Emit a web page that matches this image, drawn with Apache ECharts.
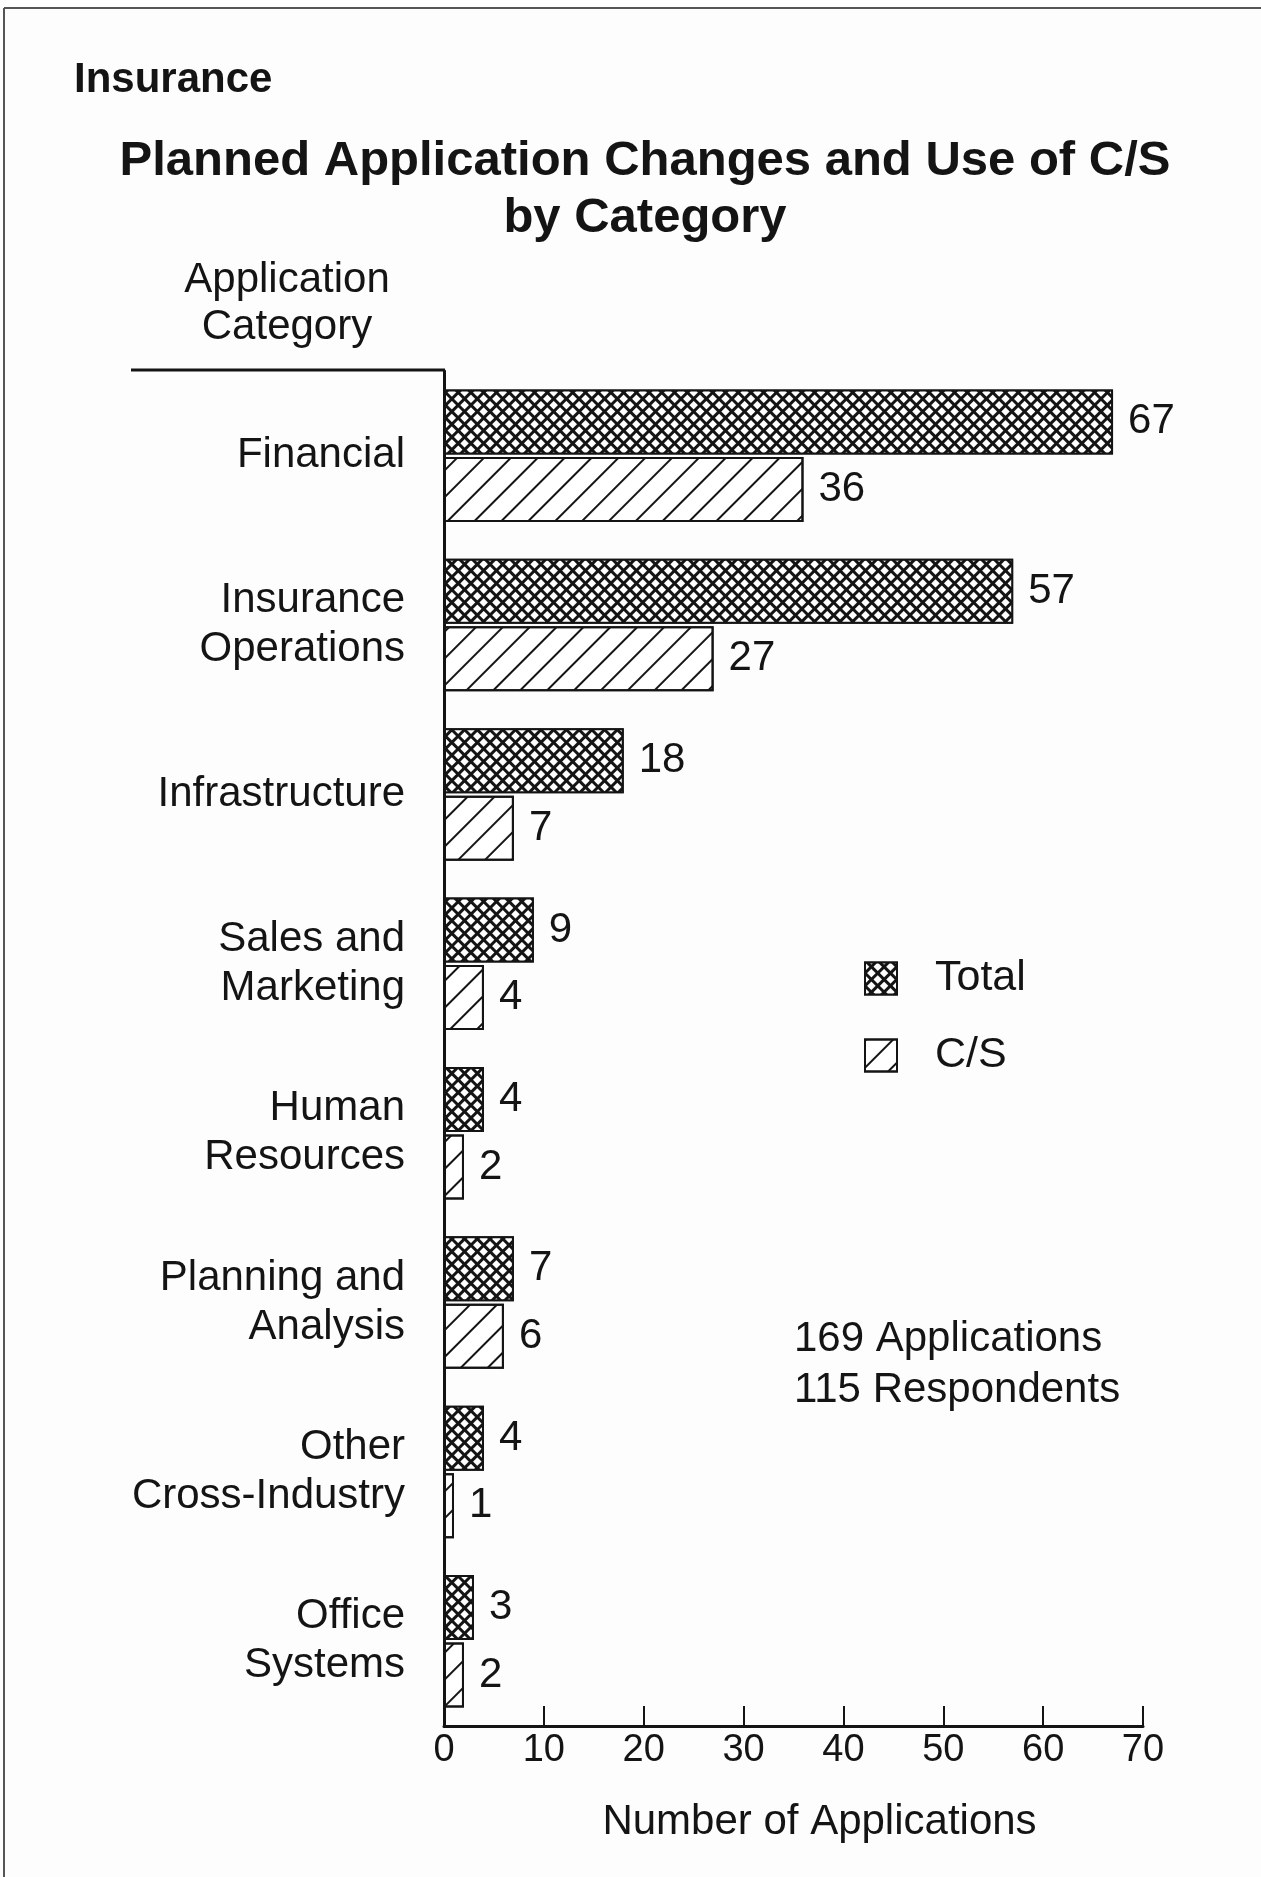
<!DOCTYPE html>
<html>
<head>
<meta charset="utf-8">
<title>Planned Application Changes and Use of C/S by Category</title>
<script src="https://cdn.jsdelivr.net/npm/echarts@6/dist/echarts.min.js"></script>
<style>
  html, body { margin: 0; padding: 0; background: #fdfdfd; }
  #chart { width: 1261px; height: 1877px; }
</style>
</head>
<body>
<div id="chart"></div>
<script>
// data
const categories = [
  'Financial',
  'Insurance\nOperations',
  'Infrastructure',
  'Sales and\nMarketing',
  'Human\nResources',
  'Planning and\nAnalysis',
  'Other\nCross-Industry',
  'Office\nSystems'
];
const totalValues = [67, 57, 18, 9, 4, 7, 4, 3];
const csValues = [36, 27, 7, 4, 2, 6, 1, 2];
const seriesNames = ['Total', 'C/S'];
const xMin = 0;
const xMax = 70;
const xStep = 10;
const footNote = '169 Applications\n115 Respondents';

const FONT = '"Liberation Sans", Arial, Helvetica, sans-serif';
const INK = '#141414';

let mychart = echarts.init(document.getElementById('chart'));

// cross hatch for Total, diagonal strokes for C/S
const hatchTotal = {
  symbol: 'rect',
  symbolSize: 1,
  color: '#ffffff',
  backgroundColor: INK,
  dashArrayX: [6, 3],
  dashArrayY: [6, 3],
  rotation: Math.PI / 4
};
const hatchCS = {
  symbol: 'rect',
  symbolSize: 1,
  color: INK,
  dashArrayX: [1, 0],
  dashArrayY: [2, 17],
  rotation: -Math.PI / 4
};

const barLabel = {
  show: true,
  position: 'right',
  distance: 15,
  color: INK,
  fontSize: 42,
  fontFamily: FONT
};

let option = {
  backgroundColor: '#fdfdfd',
  animation: false,
  textStyle: { fontFamily: FONT, color: INK },
  title: [
    {
      text: 'Insurance',
      left: 74,
      top: 59,
      padding: 0,
      textStyle: { fontSize: 42, fontWeight: 'bold', color: INK, fontFamily: FONT }
    },
    {
      text: 'Planned Application Changes and Use of C/S\nby Category',
      left: 645,
      top: 133,
      textAlign: 'center',
      padding: 0,
      textStyle: { fontSize: 49, fontWeight: 'bold', lineHeight: 57, color: INK, fontFamily: FONT }
    },
    {
      text: 'Application\nCategory',
      left: 287,
      top: 257,
      textAlign: 'center',
      padding: 0,
      textStyle: { fontSize: 42, fontWeight: 'normal', lineHeight: 47, color: INK, fontFamily: FONT }
    }
  ],
  legend: {
    data: seriesNames,
    orient: 'vertical',
    left: 859,
    top: 952,
    itemWidth: 32,
    itemHeight: 32,
    itemGap: 34,
    icon: 'rect',
    textStyle: { fontSize: 43, color: INK, fontFamily: FONT, padding: [0, 0, 0, 33] }
  },
  grid: {
    left: 444,
    right: 118,
    top: 371,
    bottom: 151,
    containLabel: false
  },
  xAxis: {
    type: 'value',
    min: xMin,
    max: xMax,
    interval: xStep,
    name: 'Number of Applications',
    nameLocation: 'middle',
    nameGap: 75,
    nameTextStyle: { fontSize: 42, color: INK, fontFamily: FONT, padding: [0, 0, 0, 52] },
    axisLine: { show: true, lineStyle: { color: INK, width: 3 } },
    axisTick: { show: true, inside: true, length: 20, lineStyle: { color: INK, width: 2 } },
    axisLabel: { fontSize: 38, color: INK, margin: 6, fontFamily: FONT },
    splitLine: { show: false }
  },
  yAxis: {
    type: 'category',
    inverse: true,
    data: categories,
    axisLine: { show: true, lineStyle: { color: INK, width: 3 } },
    axisTick: { show: false },
    axisLabel: {
      fontSize: 42,
      lineHeight: 49,
      color: INK,
      margin: 39,
      align: 'right',
      fontFamily: FONT
    }
  },
  series: [
    {
      name: seriesNames[0],
      type: 'bar',
      data: totalValues,
      barWidth: 65,
      barGap: '4%',
      itemStyle: { color: '#ffffff', borderColor: INK, borderWidth: 2, decal: hatchTotal },
      label: barLabel
    },
    {
      name: seriesNames[1],
      type: 'bar',
      data: csValues,
      barWidth: 65,
      barGap: '4%',
      itemStyle: { color: '#ffffff', borderColor: INK, borderWidth: 2, decal: hatchCS },
      label: barLabel
    }
  ],
  graphic: [
    // page frame (top and left edge of the scanned sheet)
    { type: 'line', shape: { x1: 4, y1: 8, x2: 1261, y2: 8 }, style: { stroke: '#555', lineWidth: 2 } },
    { type: 'line', shape: { x1: 4, y1: 8, x2: 4, y2: 1877 }, style: { stroke: '#555', lineWidth: 2 } },
    // rule under the column heading
    { type: 'line', shape: { x1: 131, y1: 370, x2: 445, y2: 370 }, style: { stroke: INK, lineWidth: 3 } },
    {
      type: 'text',
      left: 794,
      top: 1314,
      style: { text: footNote, fontSize: 42, lineHeight: 51, fill: INK, fontFamily: FONT }
    }
  ]
};

mychart.setOption(option);
</script>
</body>
</html>
